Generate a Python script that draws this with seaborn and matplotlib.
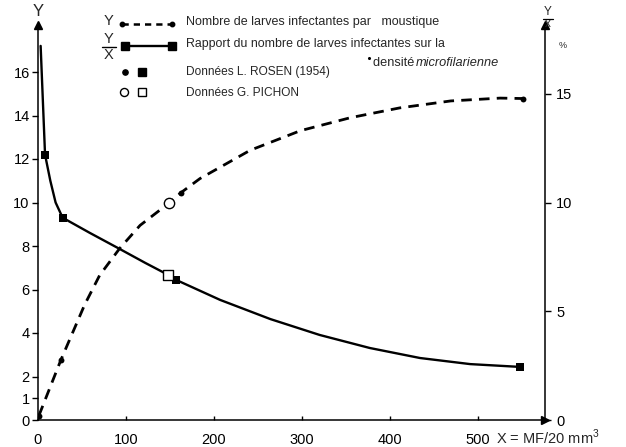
import matplotlib
matplotlib.use("Agg")
import matplotlib.pyplot as plt
import seaborn as sns

# ---------------- data ----------------
# Y : number of infective larvae per mosquito (dashed curve, left axis)
y_curve_x = [1, 26, 53, 70, 93, 116, 149, 162, 184, 241, 298, 355, 411, 469, 525, 551]
y_curve_v = [0.2, 2.76, 5.3, 6.65, 7.9, 8.95, 9.98, 10.44, 11.1, 12.4, 13.3, 13.9, 14.35, 14.67, 14.8, 14.78]

# Y/X : ratio in % (solid curve, right axis)
r_curve_x = [3, 8, 14, 20, 28, 59, 93, 122, 148, 157, 207, 264, 320, 377, 434, 491, 548]
r_curve_v = [17.2, 12.2, 11.0, 10.0, 9.3, 8.6, 7.86, 7.22, 6.67, 6.44, 5.52, 4.64, 3.91, 3.31, 2.85, 2.57, 2.44]

# Données L. ROSEN (1954)
rosen_y_x = [1, 26, 162, 551]
rosen_y_v = [0.2, 2.75, 10.45, 14.78]
rosen_r_x = [8, 28, 157, 548]
rosen_r_v = [12.2, 9.3, 6.45, 2.44]

# Données G. PICHON
pichon_y_x = [149]
pichon_y_v = [10.0]
pichon_r_x = [148]
pichon_r_v = [6.67]

left_ticks = [0, 1, 2, 4, 6, 8, 10, 12, 14, 16]
right_ticks = [0, 5, 10, 15]
x_ticks = [0, 100, 200, 300, 400, 500]
x_ticklabels = ["0", "100", "200", "300", "400", "500"]

legend_texts = [
    "Nombre de larves infectantes par   moustique",
    "Rapport du nombre de larves infectantes sur la",
    "Données L. ROSEN (1954)",
    "Données G. PICHON",
]

# ---------------- figure ----------------
sns.set_theme(style="white")
plt.rcParams["font.family"] = ["Liberation Sans", "DejaVu Sans"]
plt.rcParams["mathtext.fontset"] = "custom"
plt.rcParams["mathtext.rm"] = "Liberation Sans"

W, H = 626, 447
fig = plt.figure(figsize=(W / 100, H / 100), dpi=100)
fig.patch.set_facecolor("white")

x0, x1, yb, yt = 38, 545, 420, 25
pos = [x0 / W, 1 - yb / H, (x1 - x0) / W, (yb - yt) / H]
ax = fig.add_axes(pos)
ax2 = ax.twinx()

XMAX = 576
YMAX = (yb - yt) / 21.75
for a in (ax, ax2):
    a.set_xlim(0, XMAX)
    a.set_ylim(0, YMAX)
    a.set_facecolor("none")
    a.grid(False)

# curves
sns.lineplot(x=y_curve_x, y=y_curve_v, ax=ax, color="black", linewidth=2.0,
             linestyle=(0, (3.8, 2.6)), sort=False, estimator=None)
sns.lineplot(x=r_curve_x, y=r_curve_v, ax=ax2, color="black", linewidth=1.7,
             sort=False, estimator=None)

# markers
sns.scatterplot(x=rosen_y_x, y=rosen_y_v, ax=ax, color="black", marker="o", s=18,
                edgecolor="black", linewidth=0, zorder=5)
sns.scatterplot(x=rosen_r_x, y=rosen_r_v, ax=ax2, color="black", marker="s", s=40,
                edgecolor="black", linewidth=0, zorder=5)
sns.scatterplot(x=pichon_y_x, y=pichon_y_v, ax=ax, color="white", marker="o", s=55,
                edgecolor="black", linewidth=1.0, zorder=6)
sns.scatterplot(x=pichon_r_x, y=pichon_r_v, ax=ax2, color="white", marker="s", s=45,
                edgecolor="black", linewidth=1.0, zorder=6)

# spines
for a in (ax, ax2):
    a.spines["top"].set_visible(False)
ax.spines["right"].set_visible(False)
ax2.spines["left"].set_visible(False)
ax2.spines["bottom"].set_visible(False)
for s in ("left", "bottom"):
    ax.spines[s].set_color("black")
    ax.spines[s].set_linewidth(1.1)
ax2.spines["right"].set_color("black")
ax2.spines["right"].set_linewidth(1.1)

# arrows on axes
ax.plot(0, 1, marker="^", color="black", markersize=6, transform=ax.transAxes, clip_on=False)
ax.plot(1, 0, marker=">", color="black", markersize=6, transform=ax.transAxes, clip_on=False)
ax2.plot(1, 1, marker="^", color="black", markersize=6, transform=ax2.transAxes, clip_on=False)

# ticks
ax.set_yticks(left_ticks)
ax.set_yticklabels([str(t) for t in left_ticks])
ax.set_xticks(x_ticks)
ax.set_xticklabels(x_ticklabels)
ax2.set_yticks(right_ticks)
ax2.set_yticklabels([str(t) for t in right_ticks])
ax.tick_params(axis="y", direction="out", length=4, width=1, pad=2, labelsize=10.5, colors="black", left=True)
ax.tick_params(axis="x", direction="in", length=3, width=1, pad=9, labelsize=10.5, colors="black", bottom=True)
ax2.tick_params(axis="y", direction="out", length=4, width=1, pad=4, labelsize=10.5, colors="black", right=True)
ax.set_xlabel("")
ax.set_ylabel("")
ax2.set_ylabel("")

# ---------------- annotations / legend (overlay in pixel coords) ----------------
ov = fig.add_axes([0, 0, 1, 1])
ov.set_xlim(0, W)
ov.set_ylim(H, 0)
ov.axis("off")
ov.set_facecolor("none")

ov.text(38, 12, "Y", fontsize=12, ha="center", va="center")
ov.text(548, 12, "Y", fontsize=8.5, ha="center", va="center")
ov.plot([543, 553], [18.5, 18.5], color="black", lw=0.9)
ov.text(548, 24, "x", fontsize=8.5, ha="center", va="center")
ov.text(563, 45, "%", fontsize=6.5, ha="center", va="center")
ov.text(496, 437, "X = MF/20 mm$^3$", fontsize=10.5, ha="left", va="center")

# legend row 1
ov.text(108, 21, "Y", fontsize=10.5, ha="center", va="center")
ov.plot([122, 172], [24, 24], color="black", lw=1.8, linestyle=(0, (2.5, 2.0)))
ov.plot([122, 172], [24, 24], "o", color="black", ms=3.2)
ov.text(186, 22, legend_texts[0], fontsize=9.0, ha="left", va="center")
# legend row 2
ov.text(109, 39, "Y", fontsize=10.5, ha="center", va="center")
ov.plot([102, 116], [46.5, 46.5], color="black", lw=1.0)
ov.text(109, 55, "X", fontsize=10.5, ha="center", va="center")
ov.plot([125, 172], [46, 46], color="black", lw=1.7)
ov.plot([125, 172], [46, 46], "s", color="black", ms=5.5)
ov.text(186, 44, legend_texts[1], fontsize=8.9, ha="left", va="center")
ov.plot([369], [58], "o", color="black", ms=1.2)
ov.text(373, 63, "densité ", fontsize=9.2, ha="left", va="center")
ov.text(416, 63, "microfilarienne", fontsize=9.2, ha="left", va="center", style="italic")
# legend row 3
ov.plot([125], [72], "o", color="black", ms=3.8)
ov.plot([142], [72], "s", color="black", ms=5.5)
ov.text(186, 72, legend_texts[2], fontsize=8.6, ha="left", va="center")
# legend row 4
ov.plot([124], [92], "o", color="black", mfc="white", ms=5.8, mew=1.0)
ov.plot([142], [92], "s", color="black", mfc="white", ms=5.2, mew=1.0)
ov.text(186, 93, legend_texts[3], fontsize=8.6, ha="left", va="center")

fig.savefig("out.png", dpi=100, facecolor="white")
